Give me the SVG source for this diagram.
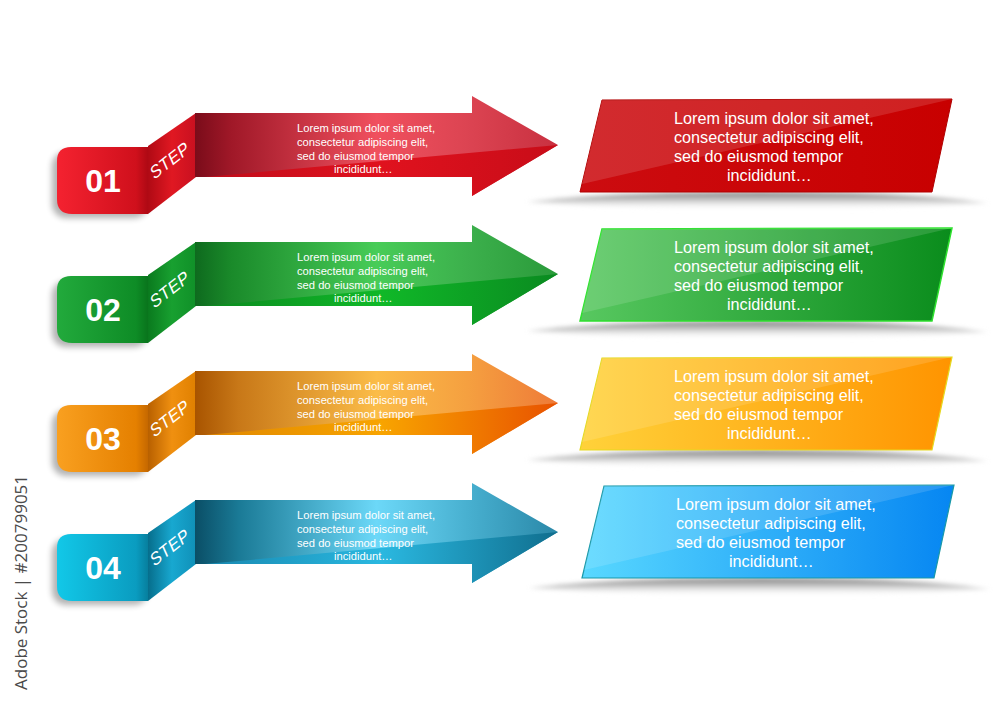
<svg xmlns="http://www.w3.org/2000/svg" width="1000" height="708" viewBox="0 0 1000 708">
<defs>
<style>
.at{font-family:"Liberation Sans",Arial,sans-serif;font-size:11.2px;fill:#ffffff}
.bt{font-family:"Liberation Sans",Arial,sans-serif;font-size:16.2px;fill:#ffffff}
.num{font-family:"Liberation Sans",Arial,sans-serif;font-size:32px;font-weight:bold;fill:#ffffff}
.step{font-family:"Liberation Sans",Arial,sans-serif;font-size:17px;fill:#ffffff;letter-spacing:0.5px}
.gloss{fill:#ffffff;opacity:0.13}
.wm{font-family:"Open Sans","Liberation Sans",sans-serif;font-size:17px;fill:#4a4a4a}
</style>
<filter id="blur3" x="-20%" y="-50%" width="140%" height="200%"><feGaussianBlur stdDeviation="3"/></filter>
<filter id="blur2" x="-20%" y="-100%" width="140%" height="300%"><feGaussianBlur stdDeviation="2.2"/></filter>
<linearGradient id="shadowG" x1="0" y1="0" x2="0" y2="1"><stop offset="0" stop-color="#808080"/><stop offset="0.45" stop-color="#c8c8c8"/><stop offset="1" stop-color="#ffffff" stop-opacity="0"/></linearGradient>
<!-- red -->
<linearGradient id="tabR" gradientUnits="userSpaceOnUse" x1="57" y1="0" x2="150" y2="0"><stop offset="0" stop-color="#f42230"/><stop offset="0.85" stop-color="#d0101c"/><stop offset="1" stop-color="#a80812"/></linearGradient>
<linearGradient id="foldR" gradientUnits="userSpaceOnUse" x1="148" y1="0" x2="196" y2="0"><stop offset="0" stop-color="#b00a14"/><stop offset="0.5" stop-color="#e01822"/><stop offset="1" stop-color="#c81020"/></linearGradient>
<linearGradient id="shaftR" gradientUnits="userSpaceOnUse" x1="195" y1="0" x2="558" y2="0"><stop offset="0" stop-color="#7a0c1a"/><stop offset="0.1" stop-color="#a01828"/><stop offset="0.5" stop-color="#f0505e"/><stop offset="0.75" stop-color="#dc4452"/><stop offset="1" stop-color="#c83040"/></linearGradient>
<linearGradient id="lowR" gradientUnits="userSpaceOnUse" x1="205" y1="0" x2="558" y2="0"><stop offset="0" stop-color="#c00c1a"/><stop offset="0.5" stop-color="#e0121e"/><stop offset="1" stop-color="#c80c18"/></linearGradient>
<!-- green -->
<linearGradient id="tabG" gradientUnits="userSpaceOnUse" x1="57" y1="0" x2="150" y2="0"><stop offset="0" stop-color="#22aa3c"/><stop offset="0.85" stop-color="#0e8c26"/><stop offset="1" stop-color="#08701a"/></linearGradient>
<linearGradient id="foldG" gradientUnits="userSpaceOnUse" x1="148" y1="0" x2="196" y2="0"><stop offset="0" stop-color="#0a7a1e"/><stop offset="0.5" stop-color="#18a030"/><stop offset="1" stop-color="#109028"/></linearGradient>
<linearGradient id="shaftG" gradientUnits="userSpaceOnUse" x1="195" y1="0" x2="558" y2="0"><stop offset="0" stop-color="#0e6a1e"/><stop offset="0.1" stop-color="#1a8a2a"/><stop offset="0.5" stop-color="#48cc58"/><stop offset="0.75" stop-color="#3cb04c"/><stop offset="1" stop-color="#2a9a3a"/></linearGradient>
<linearGradient id="lowG" gradientUnits="userSpaceOnUse" x1="205" y1="0" x2="558" y2="0"><stop offset="0" stop-color="#0c8a20"/><stop offset="0.5" stop-color="#10b828"/><stop offset="1" stop-color="#0a8a20"/></linearGradient>
<!-- orange -->
<linearGradient id="tabO" gradientUnits="userSpaceOnUse" x1="57" y1="0" x2="150" y2="0"><stop offset="0" stop-color="#f9a020"/><stop offset="0.85" stop-color="#e58000"/><stop offset="1" stop-color="#c06400"/></linearGradient>
<linearGradient id="foldO" gradientUnits="userSpaceOnUse" x1="148" y1="0" x2="196" y2="0"><stop offset="0" stop-color="#b86000"/><stop offset="0.5" stop-color="#f09010"/><stop offset="1" stop-color="#e08000"/></linearGradient>
<linearGradient id="shaftO" gradientUnits="userSpaceOnUse" x1="195" y1="0" x2="558" y2="0"><stop offset="0" stop-color="#a85400"/><stop offset="0.12" stop-color="#c87818"/><stop offset="0.5" stop-color="#fbbc48"/><stop offset="0.75" stop-color="#f5a040"/><stop offset="1" stop-color="#ee7a38"/></linearGradient>
<linearGradient id="lowO" gradientUnits="userSpaceOnUse" x1="205" y1="0" x2="558" y2="0"><stop offset="0" stop-color="#e08800"/><stop offset="0.5" stop-color="#f8a400"/><stop offset="1" stop-color="#e85200"/></linearGradient>
<!-- blue -->
<linearGradient id="tabB" gradientUnits="userSpaceOnUse" x1="57" y1="0" x2="150" y2="0"><stop offset="0" stop-color="#12c8e8"/><stop offset="0.85" stop-color="#0a9cc0"/><stop offset="1" stop-color="#067a98"/></linearGradient>
<linearGradient id="foldB" gradientUnits="userSpaceOnUse" x1="148" y1="0" x2="196" y2="0"><stop offset="0" stop-color="#066e8c"/><stop offset="0.5" stop-color="#18a8d0"/><stop offset="1" stop-color="#1090b8"/></linearGradient>
<linearGradient id="shaftB" gradientUnits="userSpaceOnUse" x1="195" y1="0" x2="558" y2="0"><stop offset="0" stop-color="#0a4e66"/><stop offset="0.12" stop-color="#1a7a96"/><stop offset="0.5" stop-color="#6cd8f8"/><stop offset="0.75" stop-color="#48b0d0"/><stop offset="1" stop-color="#2a88a8"/></linearGradient>
<linearGradient id="lowB" gradientUnits="userSpaceOnUse" x1="205" y1="0" x2="558" y2="0"><stop offset="0" stop-color="#1888b0"/><stop offset="0.5" stop-color="#2ab8e0"/><stop offset="1" stop-color="#106e8e"/></linearGradient>
<!-- boxes -->
<linearGradient id="boxR" x1="0" y1="0" x2="1" y2="0"><stop offset="0" stop-color="#cc0c10"/><stop offset="1" stop-color="#c80000"/></linearGradient>
<linearGradient id="boxG" x1="0" y1="0" x2="1" y2="0"><stop offset="0" stop-color="#58c860"/><stop offset="1" stop-color="#0a8c1c"/></linearGradient>
<linearGradient id="boxO" x1="0" y1="0" x2="1" y2="0"><stop offset="0" stop-color="#ffd23a"/><stop offset="1" stop-color="#ff9400"/></linearGradient>
<linearGradient id="boxB" x1="0" y1="0" x2="1" y2="0"><stop offset="0" stop-color="#58d8ff"/><stop offset="1" stop-color="#0686f2"/></linearGradient>
</defs>
<rect width="1000" height="708" fill="#ffffff"/>

<g id="connectors"></g>

<!-- Step 01 -->
<g id="step1-arrow">
  <rect x="52" y="152" width="96" height="66" rx="14" fill="#000" opacity="0.3" filter="url(#blur3)"/>
  <path d="M148 147 L71 147 Q57 147 57 161 L57 199 Q57 214 72 214 L148 214 Z" fill="url(#tabR)"/>
  <path d="M148 146 L196 113 L196 177 L148 214 Z" fill="url(#foldR)"/>
  <path d="M195 113 L472 113 L472 96 L558 145 L472 196 L472 177 L195 177 Z" fill="url(#shaftR)"/>
  <path d="M205 177 L558 145 L472 196 L472 177 Z" fill="url(#lowR)"/>
  <text class="num" x="103" y="192" text-anchor="middle">01</text>
  <text class="step" transform="translate(154 180) rotate(-38) skewX(-14)">STEP</text>
  <text class="at" x="297" y="132">Lorem ipsum dolor sit amet,</text>
  <text class="at" x="297" y="146">consectetur adipiscing elit,</text>
  <text class="at" x="297" y="160">sed do eiusmod tempor</text>
  <text class="at" x="334" y="173">incididunt…</text>
</g>
<g id="step1-box">
  <path d="M527 202 Q600 192 760 192 Q920 192 988 203 Q760 218 527 202 Z" fill="url(#shadowG)" filter="url(#blur2)"/>
  <path d="M602 100 L952 99 L932 192 L580 192 Z" fill="url(#boxR)" stroke="#b00000" stroke-width="1"/>
  <path class="gloss" d="M602 100 L952 99 L582 184 Z"/>
  <text class="bt" x="674" y="124">Lorem ipsum dolor sit amet,</text>
  <text class="bt" x="674" y="143">consectetur adipiscing elit,</text>
  <text class="bt" x="674" y="162">sed do eiusmod tempor</text>
  <text class="bt" x="727" y="181">incididunt…</text>
</g>

<!-- Step 02 -->
<g id="step2-arrow" transform="translate(0 129)">
  <rect x="52" y="152" width="96" height="66" rx="14" fill="#000" opacity="0.3" filter="url(#blur3)"/>
  <path d="M148 147 L71 147 Q57 147 57 161 L57 199 Q57 214 72 214 L148 214 Z" fill="url(#tabG)"/>
  <path d="M148 146 L196 113 L196 177 L148 214 Z" fill="url(#foldG)"/>
  <path d="M195 113 L472 113 L472 96 L558 145 L472 196 L472 177 L195 177 Z" fill="url(#shaftG)"/>
  <path d="M205 177 L558 145 L472 196 L472 177 Z" fill="url(#lowG)"/>
  <text class="num" x="103" y="192" text-anchor="middle">02</text>
  <text class="step" transform="translate(154 180) rotate(-38) skewX(-14)">STEP</text>
  <text class="at" x="297" y="132">Lorem ipsum dolor sit amet,</text>
  <text class="at" x="297" y="146">consectetur adipiscing elit,</text>
  <text class="at" x="297" y="160">sed do eiusmod tempor</text>
  <text class="at" x="334" y="173">incididunt…</text>
</g>
<g id="step2-box" transform="translate(0 129)">
  <path d="M527 202 Q600 192 760 192 Q920 192 988 203 Q760 218 527 202 Z" fill="url(#shadowG)" filter="url(#blur2)"/>
  <path d="M602 100 L952 99 L932 192 L580 192 Z" fill="url(#boxG)" stroke="#2ee02e" stroke-width="1.5"/>
  <path class="gloss" d="M602 100 L952 99 L582 184 Z"/>
  <text class="bt" x="674" y="124">Lorem ipsum dolor sit amet,</text>
  <text class="bt" x="674" y="143">consectetur adipiscing elit,</text>
  <text class="bt" x="674" y="162">sed do eiusmod tempor</text>
  <text class="bt" x="727" y="181">incididunt…</text>
</g>

<!-- Step 03 -->
<g id="step3-arrow" transform="translate(0 258)">
  <rect x="52" y="152" width="96" height="66" rx="14" fill="#000" opacity="0.3" filter="url(#blur3)"/>
  <path d="M148 147 L71 147 Q57 147 57 161 L57 199 Q57 214 72 214 L148 214 Z" fill="url(#tabO)"/>
  <path d="M148 146 L196 113 L196 177 L148 214 Z" fill="url(#foldO)"/>
  <path d="M195 113 L472 113 L472 96 L558 145 L472 196 L472 177 L195 177 Z" fill="url(#shaftO)"/>
  <path d="M205 177 L558 145 L472 196 L472 177 Z" fill="url(#lowO)"/>
  <text class="num" x="103" y="192" text-anchor="middle">03</text>
  <text class="step" transform="translate(154 180) rotate(-38) skewX(-14)">STEP</text>
  <text class="at" x="297" y="132">Lorem ipsum dolor sit amet,</text>
  <text class="at" x="297" y="146">consectetur adipiscing elit,</text>
  <text class="at" x="297" y="160">sed do eiusmod tempor</text>
  <text class="at" x="334" y="173">incididunt…</text>
</g>
<g id="step3-box" transform="translate(0 258)">
  <path d="M527 202 Q600 192 760 192 Q920 192 988 203 Q760 218 527 202 Z" fill="url(#shadowG)" filter="url(#blur2)"/>
  <path d="M602 100 L952 99 L932 192 L580 192 Z" fill="url(#boxO)" stroke="#e6d820" stroke-width="1.2"/>
  <path class="gloss" d="M602 100 L952 99 L582 184 Z"/>
  <text class="bt" x="674" y="124">Lorem ipsum dolor sit amet,</text>
  <text class="bt" x="674" y="143">consectetur adipiscing elit,</text>
  <text class="bt" x="674" y="162">sed do eiusmod tempor</text>
  <text class="bt" x="727" y="181">incididunt…</text>
</g>

<!-- Step 04 -->
<g id="step4-arrow" transform="translate(0 387)">
  <rect x="52" y="152" width="96" height="66" rx="14" fill="#000" opacity="0.3" filter="url(#blur3)"/>
  <path d="M148 147 L71 147 Q57 147 57 161 L57 199 Q57 214 72 214 L148 214 Z" fill="url(#tabB)"/>
  <path d="M148 146 L196 113 L196 177 L148 214 Z" fill="url(#foldB)"/>
  <path d="M195 113 L472 113 L472 96 L558 145 L472 196 L472 177 L195 177 Z" fill="url(#shaftB)"/>
  <path d="M205 177 L558 145 L472 196 L472 177 Z" fill="url(#lowB)"/>
  <text class="num" x="103" y="192" text-anchor="middle">04</text>
  <text class="step" transform="translate(154 180) rotate(-38) skewX(-14)">STEP</text>
  <text class="at" x="297" y="132">Lorem ipsum dolor sit amet,</text>
  <text class="at" x="297" y="146">consectetur adipiscing elit,</text>
  <text class="at" x="297" y="160">sed do eiusmod tempor</text>
  <text class="at" x="334" y="173">incididunt…</text>
</g>
<g id="step4-box" transform="translate(2 386)">
  <path d="M527 202 Q600 192 760 192 Q920 192 988 203 Q760 218 527 202 Z" fill="url(#shadowG)" filter="url(#blur2)"/>
  <path d="M602 100 L952 99 L932 192 L580 192 Z" fill="url(#boxB)" stroke="#1898a8" stroke-width="1.2"/>
  <path class="gloss" d="M602 100 L952 99 L582 184 Z"/>
  <text class="bt" x="674" y="124">Lorem ipsum dolor sit amet,</text>
  <text class="bt" x="674" y="143">consectetur adipiscing elit,</text>
  <text class="bt" x="674" y="162">sed do eiusmod tempor</text>
  <text class="bt" x="727" y="181">incididunt…</text>
</g>

<text class="wm" transform="translate(27 690) rotate(-90)">Adobe Stock | #200799051</text>
</svg>
